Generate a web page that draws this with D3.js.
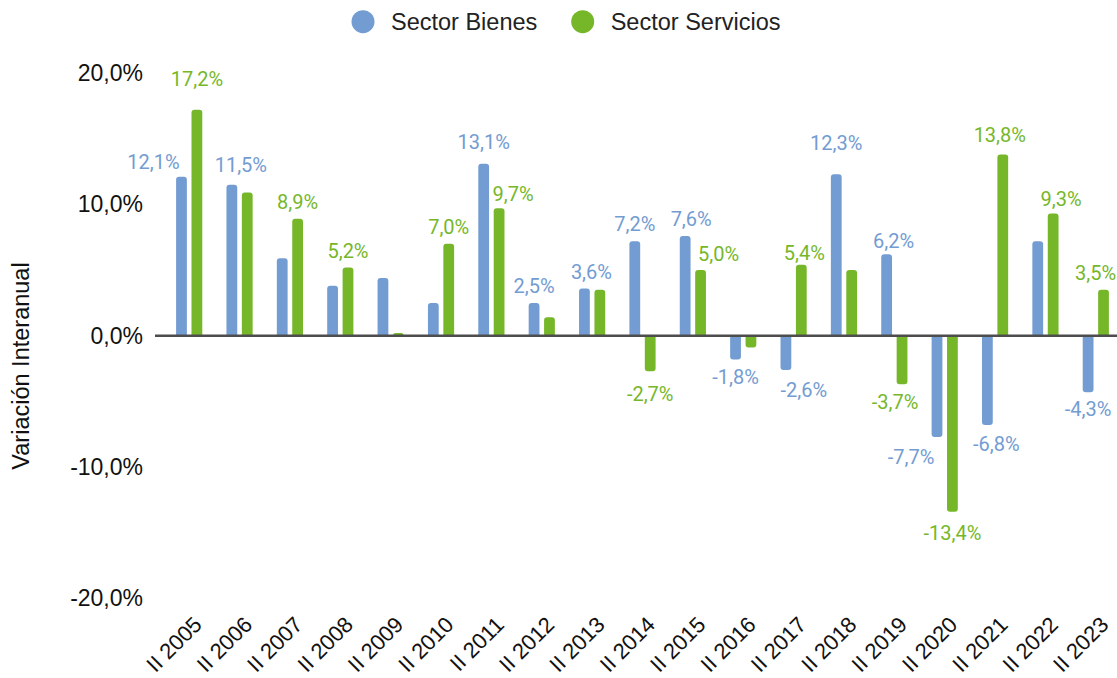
<!DOCTYPE html>
<html>
<head>
<meta charset="utf-8">
<script src="https://cdn.jsdelivr.net/npm/d3@7"></script>
<style>
  body { margin: 0; background: #fff; }
  svg { display: block; }
</style>
</head>
<body>
<div id="chart"></div>
<script>
// data
const categories = ["II 2005", "II 2006", "II 2007", "II 2008", "II 2009", "II 2010", "II 2011",
  "II 2012", "II 2013", "II 2014", "II 2015", "II 2016", "II 2017", "II 2018", "II 2019",
  "II 2020", "II 2021", "II 2022", "II 2023"];
const bienes = [12.1, 11.5, 5.9, 3.8, 4.4, 2.5, 13.1, 2.5, 3.6, 7.2, 7.6, -1.8, -2.6, 12.3, 6.2, -7.7, -6.8, 7.2, -4.3];
const servicios = [17.2, 10.9, 8.9, 5.2, 0.2, 7.0, 9.7, 1.4, 3.5, -2.7, 5.0, -0.9, 5.4, 5.0, -3.7, -13.4, 13.8, 9.3, 3.5];
// which value labels are visible in the original
const bienesLabeled = [1, 1, 0, 0, 0, 0, 1, 1, 1, 1, 1, 1, 1, 1, 1, 1, 1, 0, 1];
const serviciosLabeled = [1, 0, 1, 1, 0, 1, 1, 0, 0, 1, 1, 0, 1, 0, 1, 1, 1, 1, 1];
const yTicks = [-20, -10, 0, 10, 20];
const seriesNames = ["Sector Bienes", "Sector Servicios"];

let opts = {
  width: 1117,
  height: 678,
  blue: "#739cd2",
  green: "#76b72a",
  label_gap: 17,
  axis_font: "'Liberation Sans', Arial, sans-serif",
  label_font: "Roboto, sans-serif",
};

// small nudges the original chart applied to avoid label clashes [dx, dy]
let label_shift = {
  "0b": [-28, 2], "0s": [0, -14], "1b": [9, -3], "6b": [0, -5], "6s": [14, 2],
  "8b": [7, 0], "10b": [6, 0], "10s": [18, 1], "12s": [3, 5], "13b": [0, -14],
  "14b": [7, 4], "14s": [-7, 0], "12b": [18, 3], "9s": [0, 6], "15b": [-26, 3],
  "15s": [0, 4], "16b": [9, 2], "17s": [8, 2], "16s": [-3, -3], "18s": [-8, 0],
};

const fmt = (v) => d3.format(".1f")(v).replace(".", ",").replace("−", "-") + "%";

let svg = d3
  .select("#chart")
  .append("svg")
  .attr("width", opts.width)
  .attr("height", opts.height);

let x0 = d3.scaleBand().domain(categories).range([164, 1121]).paddingInner(0.48).paddingOuter(0.24);
let x1 = d3.scaleBand().domain(["b", "s"]).range([0, x0.bandwidth()]).paddingInner(0.3);
let y = d3.scaleLinear().domain([-20, 20]).range([598.5, 73]);

// y tick labels
let yAxis = svg
  .append("g")
  .attr("transform", "translate(143,0)")
  .call(d3.axisLeft(y).tickValues(yTicks).tickSize(0).tickPadding(0).tickFormat((d) => fmt(d)));
yAxis.select(".domain").remove();
yAxis
  .selectAll("text")
  .attr("font-family", opts.axis_font)
  .attr("font-size", 23)
  .attr("fill", "#111");

// y title
svg
  .append("text")
  .attr("transform", "translate(29,366) rotate(-90)")
  .attr("text-anchor", "middle")
  .attr("font-family", opts.axis_font)
  .attr("font-size", 23.5)
  .attr("fill", "#111")
  .text("Variación Interanual");

// rows for bars
let rows = [];
categories.forEach((c, i) => {
  rows.push({ cat: c, i: i, key: "b", v: bienes[i], show: bienesLabeled[i], color: opts.blue });
  rows.push({ cat: c, i: i, key: "s", v: servicios[i], show: serviciosLabeled[i], color: opts.green });
});

// bar path with rounded outer end
function barPath(d) {
  let bx = x0(d.cat) + x1(d.key);
  let w = x1.bandwidth();
  let y0 = y(0);
  let y1 = y(d.v);
  let r = Math.min(3, w / 2, Math.abs(y1 - y0));
  let sgn = d.v >= 0 ? 1 : -1;
  let p = d3.path();
  p.moveTo(bx, y0);
  p.lineTo(bx, y1 + sgn * r);
  p.quadraticCurveTo(bx, y1, bx + r, y1);
  p.lineTo(bx + w - r, y1);
  p.quadraticCurveTo(bx + w, y1, bx + w, y1 + sgn * r);
  p.lineTo(bx + w, y0);
  p.closePath();
  return p.toString();
}

svg
  .append("g")
  .selectAll("path")
  .data(rows)
  .join("path")
  .attr("d", barPath)
  .attr("fill", (d) => d.color);

// zero line
svg
  .append("line")
  .attr("x1", 155)
  .attr("x2", opts.width)
  .attr("y1", y(0))
  .attr("y2", y(0))
  .attr("stroke", "#4d4d4d")
  .attr("stroke-width", 2.5);

// value labels
svg
  .append("g")
  .selectAll("text")
  .data(rows.filter((d) => d.show))
  .join("text")
  .attr("x", (d) => {
    let s = label_shift[d.i + d.key] || [0, 0];
    return x0(d.cat) + x1(d.key) + x1.bandwidth() / 2 + s[0];
  })
  .attr("y", (d) => {
    let s = label_shift[d.i + d.key] || [0, 0];
    let off = d.v >= 0 ? -opts.label_gap : opts.label_gap;
    return y(d.v) + off + s[1];
  })
  .attr("dy", "0.36em")
  .attr("text-anchor", "middle")
  .attr("font-family", opts.label_font)
  .attr("font-size", 20)
  .attr("fill", (d) => d.color)
  .text((d) => fmt(d.v));

// x tick labels, rotated
svg
  .append("g")
  .selectAll("text")
  .data(categories)
  .join("text")
  .attr("transform", (d) => `translate(${x0(d) + x0.bandwidth() / 2 + 14},626) rotate(-45)`)
  .attr("text-anchor", "end")
  .attr("font-family", opts.axis_font)
  .attr("font-size", 22)
  .attr("fill", "#111")
  .text((d) => d);

// legend
let legend = svg
  .append("g")
  .selectAll("g")
  .data(seriesNames)
  .join("g")
  .attr("transform", (d, i) => `translate(${i === 0 ? 363 : 582.7},21.7)`);
legend
  .append("circle")
  .attr("r", 11.5)
  .attr("fill", (d, i) => (i === 0 ? opts.blue : opts.green));
legend
  .append("text")
  .attr("x", 28)
  .attr("y", 8)
  .attr("font-family", opts.axis_font)
  .attr("font-size", 23.5)
  .attr("fill", "#222")
  .text((d) => d);
</script>
</body>
</html>
